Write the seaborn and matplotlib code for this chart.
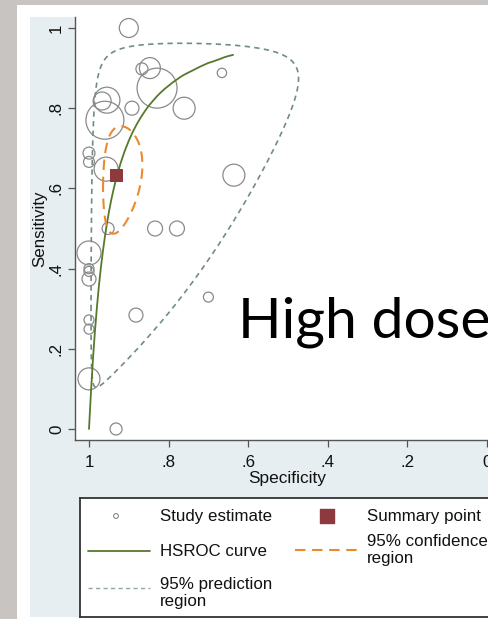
import numpy as np
import pandas as pd
import matplotlib
matplotlib.use("Agg")
import matplotlib.pyplot as plt
from matplotlib.patches import Rectangle
import seaborn as sns

# ---- study-level estimates (specificity, sensitivity, relative weight) ----
study_spec = [0.900, 0.847, 0.867, 0.829, 0.955, 0.967, 0.892, 0.761, 0.960,
              0.666, 1.000, 1.000, 0.957, 0.952, 0.834, 0.779, 1.000, 1.000,
              1.000, 1.000, 0.882, 1.000, 1.000, 1.000, 0.932, 0.636, 0.700]
study_sens = [1.000, 0.900, 0.898, 0.850, 0.820, 0.818, 0.800, 0.800, 0.770,
              0.888, 0.688, 0.666, 0.648, 0.500, 0.500, 0.500, 0.439, 0.400,
              0.393, 0.374, 0.284, 0.272, 0.249, 0.125, 0.000, 0.633, 0.329]
study_weight = [90, 110, 36, 400, 169, 81, 49, 121, 361,
                22, 36, 30, 144, 36, 56, 56, 144, 25,
                25, 49, 49, 25, 25, 121, 36, 121, 25]

# ---- summary operating point ----
summary_spec = 0.930
summary_sens = 0.631

# ---- HSROC curve ----
hsroc_spec = [1.000, 0.9995, 0.999, 0.997, 0.995, 0.990, 0.985, 0.980, 0.975,
              0.970, 0.965, 0.960, 0.955, 0.950, 0.945, 0.940, 0.935, 0.930,
              0.920, 0.910, 0.900, 0.890, 0.880, 0.870, 0.860, 0.850, 0.830,
              0.820, 0.810, 0.800, 0.790, 0.780, 0.770, 0.760, 0.750, 0.730,
              0.720, 0.700, 0.690, 0.670, 0.660, 0.650, 0.638]
hsroc_sens = [0.000, 0.009, 0.019, 0.056, 0.093, 0.175, 0.245, 0.305, 0.358,
              0.404, 0.444, 0.480, 0.512, 0.541, 0.567, 0.590, 0.611, 0.631,
              0.665, 0.694, 0.719, 0.741, 0.760, 0.777, 0.792, 0.806, 0.829,
              0.839, 0.848, 0.856, 0.864, 0.871, 0.878, 0.884, 0.889, 0.899,
              0.904, 0.913, 0.916, 0.923, 0.927, 0.930, 0.933]

# ---- bivariate model on the logit scale (for the 95% regions) ----
logit_spec_hat = 2.586
logit_sens_hat = 0.537
conf_sd = (0.295, 0.241)      # SE of logit specificity, logit sensitivity
conf_rho = -0.20
pred_sd = (1.10, 1.10)        # predictive SD incl. between-study variance
pred_rho = -0.52
chi2_95_2df = 5.991

x_ticks = [1.0, 0.8, 0.6, 0.4, 0.2, 0.0]
x_ticklabels = ["1", ".8", ".6", ".4", ".2", "0"]
y_ticks = [0.0, 0.2, 0.4, 0.6, 0.8, 1.0]
y_ticklabels = ["0", ".2", ".4", ".6", ".8", "1"]


def region(sd, rho, n=361):
    cov = np.array([[sd[0] ** 2, rho * sd[0] * sd[1]],
                    [rho * sd[0] * sd[1], sd[1] ** 2]])
    L = np.linalg.cholesky(cov)
    t = np.linspace(0, 2 * np.pi, n)
    circ = np.vstack([np.cos(t), np.sin(t)]) * np.sqrt(chi2_95_2df)
    pts = L @ circ
    lx = logit_spec_hat + pts[0]
    ly = logit_sens_hat + pts[1]
    return 1 / (1 + np.exp(-lx)), 1 / (1 + np.exp(-ly))


sns.set_theme(style="white")
plt.rcParams["font.family"] = ["Liberation Sans", "DejaVu Sans"]

W, H = 489, 619
fig = plt.figure(figsize=(W / 100, H / 100), dpi=100)
fig.patch.set_facecolor("white")


def px_rect(x0, y0, x1, y1, color, z):
    fig.patches.append(Rectangle((x0 / W, 1 - y1 / H), (x1 - x0) / W, (y1 - y0) / H,
                                 transform=fig.transFigure, facecolor=color,
                                 edgecolor="none", zorder=z))


# slide frame and graph region
px_rect(0, 0, W, H, "#c7c4c2", -3)
px_rect(17, 5, W, H, "white", -2)
px_rect(30, 17, W + 5, 617, "#e6eef1", -1)

# plot region
ax_l, ax_r, ax_t, ax_b = 75, 489, 17, 440
ax = fig.add_axes([ax_l / W, 1 - ax_b / H, (ax_r - ax_l) / W, (ax_b - ax_t) / H])
ax.set_facecolor("white")

studies = pd.DataFrame({"Specificity": study_spec, "Sensitivity": study_sens,
                        "weight": study_weight})
wmin, wmax = min(study_weight), max(study_weight)
area_per_weight = 2.07
sns.scatterplot(data=studies, x="Specificity", y="Sensitivity", size="weight",
                sizes=(area_per_weight * wmin, area_per_weight * wmax),
                size_norm=(wmin, wmax), marker="o", facecolors="none",
                edgecolor="#8a8a8a", linewidth=0.9, legend=False, ax=ax, zorder=3)

pr_x, pr_y = region(pred_sd, pred_rho)
sns.lineplot(x=pr_x, y=pr_y, sort=False, estimator=None, color="#6f8c88",
             linewidth=1.2, ax=ax, zorder=2)
ax.lines[-1].set_dashes([3.2, 2.6])

sns.lineplot(x=hsroc_spec, y=hsroc_sens, sort=False, estimator=None,
             color="#567a2c", linewidth=1.3, ax=ax, zorder=4)

cr_x, cr_y = region(conf_sd, conf_rho)
sns.lineplot(x=cr_x, y=cr_y, sort=False, estimator=None, color="#ea8a2e",
             linewidth=1.5, ax=ax, zorder=5)
ax.lines[-1].set_dashes([5.0, 3.2])

sns.scatterplot(x=[summary_spec], y=[summary_sens], marker="s", s=88,
                color="#8c3a3e", edgecolor="none", ax=ax, zorder=6)

# axes, Stata-like
ax.set_xlim(1 + 14 / 398, 1 - 400 / 398)
ax.set_ylim(-11 / 401, 1 + 11 / 401)
for side in ["top", "right"]:
    ax.spines[side].set_visible(False)
for side in ["left", "bottom"]:
    ax.spines[side].set_color("#555555")
    ax.spines[side].set_linewidth(1.0)
ax.set_xticks(x_ticks)
ax.set_xticklabels(x_ticklabels)
ax.set_yticks(y_ticks)
ax.set_yticklabels(y_ticklabels, rotation=90, va="center")
ax.tick_params(axis="both", which="major", direction="out", length=5, width=0.9,
               color="#555555", labelsize=12.2, labelcolor="#111111",
               left=True, bottom=True)
ax.tick_params(axis="x", pad=5.5)
ax.tick_params(axis="y", pad=3)
ax.set_xlabel("Specificity", fontsize=12.4, color="#111111")
ax.xaxis.set_label_coords((287 - ax_l) / (ax_r - ax_l), -(479 - ax_b) / (ax_b - ax_t))
ax.xaxis.label.set_va("center")
ax.set_ylabel("Sensitivity", fontsize=12.2, color="#111111", labelpad=1)
ax.grid(False)

# slide caption
fig.text(238 / W, 1 - 338 / H, "High dose", fontsize=41, family=["Lato", "DejaVu Sans"],
         color="black", ha="left", va="baseline")

# legend box
lg_l, lg_r, lg_t, lg_b = 80, 600, 498, 617
lax = fig.add_axes([lg_l / W, 1 - lg_b / H, (lg_r - lg_l) / W, (lg_b - lg_t) / H])
lax.set_xlim(lg_l, lg_r)
lax.set_ylim(lg_b, lg_t)
lax.set_facecolor("white")
lax.set_xticks([])
lax.set_yticks([])
for s in lax.spines.values():
    s.set_color("#333333")
    s.set_linewidth(1.3)

fs = 12.2
lax.scatter([116], [516], s=12, marker="o", facecolors="none",
            edgecolors="#8a8a8a", linewidths=0.8)
lax.text(160, 516, "Study estimate", fontsize=fs, va="center", color="#111111")
lax.scatter([327], [516], s=88, marker="s", color="#8c3a3e")
lax.text(367, 516, "Summary point", fontsize=fs, va="center", color="#111111")
lax.plot([88, 150], [551, 551], color="#567a2c", linewidth=1.3)
lax.text(160, 551, "HSROC curve", fontsize=fs, va="center", color="#111111")
lax.plot([295, 357], [550, 550], color="#ea8a2e", linewidth=1.5, dashes=[5.0, 3.2])
lax.text(367, 550, "95% confidence\nregion", fontsize=fs, va="center",
         linespacing=1.12, color="#111111")
lax.plot([88, 150], [588, 588], color="#8fa8a4", linewidth=1.0, dashes=[3.0, 2.4])
lax.text(160, 593, "95% prediction\nregion", fontsize=fs, va="center",
         linespacing=1.12, color="#111111")

fig.savefig("out.png", dpi=100)
